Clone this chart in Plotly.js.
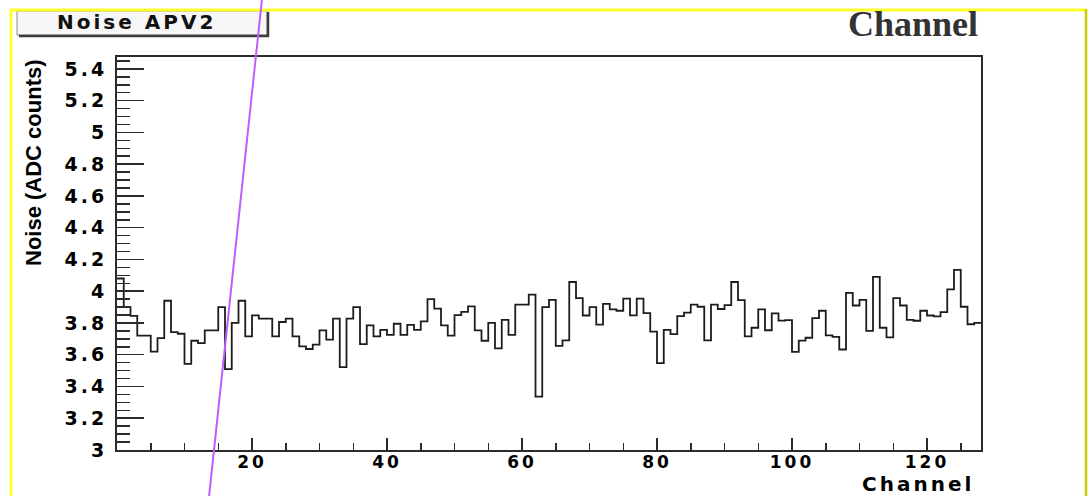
<!DOCTYPE html>
<html>
<head>
<meta charset="utf-8">
<script src="https://cdn.plot.ly/plotly-3.0.1.min.js"></script>
<style>
  html, body { margin: 0; padding: 0; background: #ffffff; }
  #chart { width: 1090px; height: 496px; }
</style>
</head>
<body>
<div id="chart"></div>
<script>
// ---- data ----
const noise = [
  4.08, 3.90, 3.845, 3.72, 3.72, 3.62, 3.705, 3.94, 3.742, 3.732,
  3.543, 3.688, 3.673, 3.753, 3.753, 3.90, 3.509, 3.80, 3.94, 3.715,
  3.848, 3.827, 3.827, 3.715, 3.806, 3.827, 3.715, 3.652, 3.636, 3.663,
  3.753, 3.695, 3.827, 3.522, 3.827, 3.90, 3.667, 3.785, 3.715, 3.757,
  3.725, 3.795, 3.725, 3.788, 3.757, 3.81, 3.95, 3.89, 3.785, 3.72,
  3.85, 3.87, 3.905, 3.753, 3.688, 3.80, 3.64, 3.82, 3.725, 3.915,
  3.915, 3.978, 3.336, 3.90, 3.946, 3.656, 3.69, 4.058, 3.957, 3.847,
  3.90, 3.79, 3.92, 3.886, 3.877, 3.953, 3.848, 3.953, 3.862, 3.745,
  3.547, 3.757, 3.73, 3.843, 3.865, 3.915, 3.902, 3.69, 3.915, 3.888,
  3.912, 4.058, 3.944, 3.715, 3.77, 3.885, 3.754, 3.86, 3.815, 3.818,
  3.618, 3.689, 3.707, 3.83, 3.877, 3.722, 3.712, 3.633, 3.989, 3.91,
  3.946, 3.75, 4.09, 3.77, 3.709, 3.957, 3.91, 3.82, 3.814, 3.877,
  3.847, 3.841, 3.868, 4.012, 4.135, 3.902, 3.792, 3.80
];
const xTickVals = [20, 40, 60, 80, 100, 120];
const xTickText = ["20", "40", "60", "80", "100", "120"];
const yTickVals = [3, 3.2, 3.4, 3.6, 3.8, 4, 4.2, 4.4, 4.6, 4.8, 5, 5.2, 5.4];
const yTickText = ["3", "3.2", "3.4", "3.6", "3.8", "4", "4.2", "4.4", "4.6", "4.8", "5", "5.2", "5.4"];
const panelTitle = "Noise APV2";
const yTitle = "Noise (ADC counts)";
const xTitle = "Channel";

// bin edges: channel i covers [i, i+1)
const binEdges = Array.from({ length: noise.length + 1 }, (_, i) => i);
const stepValues = noise.concat([noise[noise.length - 1]]);

// wide, blocky ROOT-style lettering
const spaced = (t, ls) => `<span style="letter-spacing:${ls}px">${t}</span>`;

// ---- layout geometry ----
const W = 1090, H = 496;
const M = { l: 117, r: 109, t: 57, b: 46 };
const PW = W - M.l - M.r, PH = H - M.t - M.b;
const px = v => (v - M.l) / PW;          // pixel x -> paper x
const py = v => (H - M.b - v) / PH;      // pixel y -> paper y

const axisColor = "#2b2b2b";
const sansBold = "DejaVu Sans, Verdana, sans-serif";

const trace = {
  type: "scatter",
  mode: "lines",
  x: binEdges,
  y: stepValues,
  line: { shape: "hv", color: "#1c1c1c", width: 1.8 },
  hoverinfo: "skip",
  showlegend: false
};

const shapes = [
  // title box with shadow
  { type: "rect", xref: "paper", yref: "paper", x0: px(17), x1: px(267), y0: py(35), y1: py(11),
    line: { color: "#8a8a8a", width: 1 }, fillcolor: "#f6f6f6", layer: "above" },
  { type: "line", xref: "paper", yref: "paper", x0: px(268), x1: px(268), y0: py(12), y1: py(37),
    line: { color: "#3c3c3c", width: 2.5 }, layer: "above" },
  { type: "line", xref: "paper", yref: "paper", x0: px(19), x1: px(269), y0: py(36), y1: py(36),
    line: { color: "#3c3c3c", width: 2.5 }, layer: "above" },
  // yellow pad border
  { type: "line", xref: "paper", yref: "paper", x0: px(10), x1: px(1087), y0: py(10), y1: py(10),
    line: { color: "#ffff2a", width: 3 }, layer: "above" },
  { type: "line", xref: "paper", yref: "paper", x0: px(11), x1: px(11), y0: py(9), y1: py(497),
    line: { color: "#ffff2a", width: 3 }, layer: "above" },
  { type: "line", xref: "paper", yref: "paper", x0: px(1086), x1: px(1086), y0: py(9), y1: py(497),
    line: { color: "#cccc00", width: 2.5 }, layer: "above" },
  // violet stroke across the picture
  { type: "line", xref: "paper", yref: "paper", x0: px(262), x1: px(209), y0: py(-1), y1: py(497),
    line: { color: "#bf5cff", width: 2 }, layer: "above" }
];

const annotations = [
  { text: spaced(panelTitle, 3), xref: "paper", yref: "paper", x: px(136), y: py(22), xanchor: "center", yanchor: "middle",
    showarrow: false, font: { family: sansBold, size: 20, color: "#111", weight: "bold" } },
  { text: yTitle, xref: "paper", yref: "paper", x: px(33), y: py(163), xanchor: "center", yanchor: "middle",
    textangle: -90, showarrow: false,
    font: { family: "Liberation Sans, Arial, sans-serif", size: 22, color: "#000", weight: "bold" } },
  { text: spaced(xTitle, 3), xref: "paper", yref: "paper", x: px(975), y: py(496.5), xanchor: "right", yanchor: "bottom",
    borderpad: 0, showarrow: false, font: { family: sansBold, size: 20, color: "#000", weight: "bold" } },
  { text: xTitle, xref: "paper", yref: "paper", x: px(980), y: py(24), xanchor: "right", yanchor: "middle",
    showarrow: false, font: { family: "Liberation Serif, Times New Roman, serif", size: 36, color: "#333", weight: "bold" } }
];

const layout = {
  width: W, height: H,
  margin: M,
  paper_bgcolor: "#ffffff",
  plot_bgcolor: "#ffffff",
  showlegend: false,
  xaxis: {
    range: [0, 128],
    tickmode: "array", tickvals: xTickVals, ticktext: xTickText.map(t => spaced(t, 3)),
    ticks: "inside", ticklen: 12, tickwidth: 1.5, tickcolor: axisColor,
    minor: { tickmode: "linear", tick0: 0, dtick: 5, ticks: "inside", ticklen: 7, tickwidth: 1.5, tickcolor: axisColor },
    showline: true, linecolor: axisColor, linewidth: 2, mirror: true,
    showgrid: false, zeroline: false,
    tickfont: { family: sansBold, size: 17, color: "#000", weight: "bold" },
    ticklabelstandoff: -4
  },
  yaxis: {
    range: [3, 5.475],
    tickmode: "array", tickvals: yTickVals, ticktext: yTickText.map(t => spaced(t, 3)),
    ticks: "inside", ticklen: 27, tickwidth: 1.5, tickcolor: axisColor,
    minor: { tickmode: "linear", tick0: 3, dtick: 0.05, ticks: "inside", ticklen: 13, tickwidth: 1.5, tickcolor: axisColor },
    showline: true, linecolor: axisColor, linewidth: 2, mirror: true,
    showgrid: false, zeroline: false,
    tickfont: { family: sansBold, size: 19, color: "#000", weight: "bold" },
    ticklabelstandoff: 4
  },
  shapes: shapes,
  annotations: annotations
};

Plotly.newPlot("chart", [trace], layout, { staticPlot: true, displayModeBar: false });
</script>
</body>
</html>
